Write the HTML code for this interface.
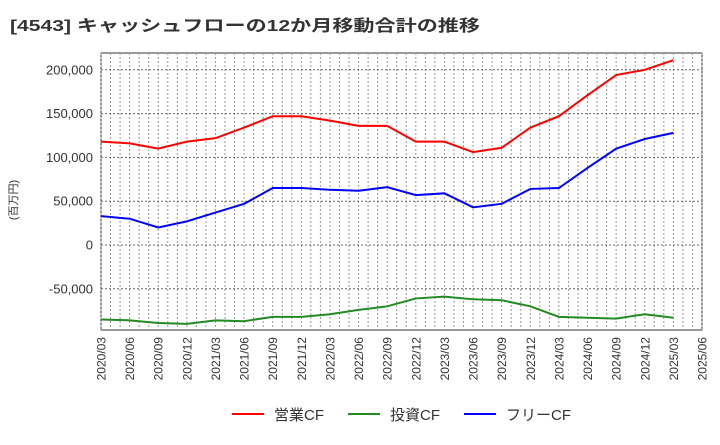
<!DOCTYPE html>
<html><head><meta charset="utf-8">
<style>
body{margin:0;background:#fff;font-family:"Liberation Sans","Noto Sans CJK JP",sans-serif;}
svg text{font-family:"Liberation Sans","Noto Sans CJK JP",sans-serif;}
</style></head>
<body>
<svg id="c" width="720" height="440" xmlns="http://www.w3.org/2000/svg">
<text x="10" y="31" font-size="16" font-weight="bold" fill="#333" textLength="470" lengthAdjust="spacingAndGlyphs">[4543]  キャッシュフローの12か月移動合計の推移</text>
<text transform="translate(17,200) rotate(-90)" font-size="11" fill="#333" text-anchor="middle">(百万円)</text>
</svg>
<script>
const xLabels=["2020/03","2020/06","2020/09","2020/12","2021/03","2021/06","2021/09","2021/12","2022/03","2022/06","2022/09","2022/12","2023/03","2023/06","2023/09","2023/12","2024/03","2024/06","2024/09","2024/12","2025/03","2025/06"];
const yTicks=[200000,150000,100000,50000,0,-50000];
const opCF=[118000,116000,110000,118000,122000,134000,147000,147000,142000,136000,136000,118000,118000,106000,111000,134000,147000,171000,194000,200000,211000];
const invCF=[-85000,-86000,-89000,-90000,-86000,-87000,-82000,-82000,-79000,-74000,-70000,-61000,-59000,-62000,-63000,-70000,-82000,-83000,-84000,-79000,-83000];
const freeCF=[33000,30000,20000,27000,37000,47000,65000,65000,63000,62000,66000,57000,59000,43000,47000,64000,65000,88000,110000,121000,128000];
const NS="http://www.w3.org/2000/svg";
const svg=document.getElementById('c');
const L=101,R=702,T=53,B=330;
const xs=i=>L+(R-L)*i/(xLabels.length-1);
const ys=v=>245-v/50000*43.8;
function mk(t,a){const e=document.createElementNS(NS,t);for(const k in a)e.setAttribute(k,a[k]);svg.appendChild(e);return e;}
const frame=mk('rect',{x:L,y:T,width:R-L,height:B-T,fill:'#fff',stroke:'#333','stroke-width':1});


for(let m=0;m<=(xLabels.length-1)*3;m++){
  const x=L+(R-L)*m/((xLabels.length-1)*3);
  const g=mk('line',{x1:x,x2:x,y1:T,y2:B,stroke:'#999','stroke-width':1,'stroke-dasharray':'2,2'});
  
  
}
yTicks.forEach(v=>{
  const y=ys(v);
  const g=mk('line',{x1:L,x2:R,y1:y,y2:y,stroke:'#666','stroke-width':1,'stroke-dasharray':'2,2'});
  
  
  const t=mk('text',{x:L-8,y:y+4.5,'font-size':13,fill:'#333','text-anchor':'end'});
  t.textContent=v.toLocaleString('en-US');
  
  
});
xLabels.forEach((s,i)=>{
  const x=xs(i);
  const t=mk('text',{x:0,y:0,'font-size':12,fill:'#333','text-anchor':'end',transform:`translate(${x+4.5},${B+7}) rotate(-90)`});
  t.textContent=s;
  
  
});
function series(d,col,name){
  const p=mk('polyline',{points:d.map((v,i)=>xs(i)+','+ys(v)).join(' '),fill:'none',stroke:col,'stroke-width':2});
  
  
}
series(opCF,'#f00','operating-cf-line');
series(invCF,'#228b22','investing-cf-line');
series(freeCF,'#00f','free-cf-line');
const leg=[['営業CF','#f00',232],['投資CF','#228b22',348],['フリーCF','#00f',464]];
leg.forEach(([n,c,x])=>{
  const l=mk('line',{x1:x,x2:x+32,y1:414,y2:414,stroke:c,'stroke-width':2});
  
  
  const t=mk('text',{x:x+42,y:420,'font-size':15,fill:'#333'});
  t.textContent=n;
  
  
});
</script>
</body></html>
